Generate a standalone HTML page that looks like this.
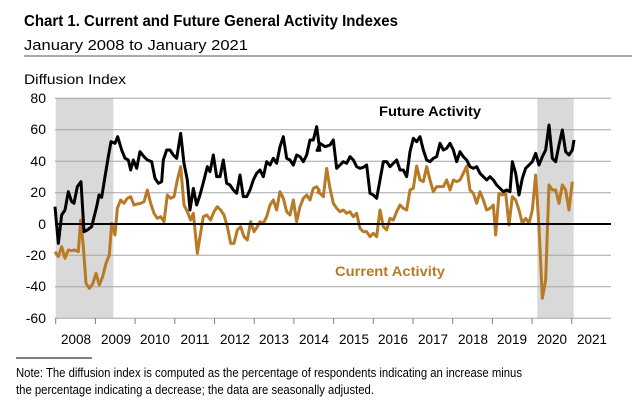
<!DOCTYPE html>
<html><head><meta charset="utf-8"><style>
html,body{margin:0;padding:0;background:#fff;}
svg{display:block;font-family:"Liberation Sans",sans-serif;}
</style></head><body>
<svg width="640" height="410" viewBox="0 0 640 410" xmlns="http://www.w3.org/2000/svg">
<text x="24" y="26" font-size="15.5" font-weight="bold" textLength="374" lengthAdjust="spacingAndGlyphs">Chart 1. Current and Future General Activity Indexes</text>
<text x="24" y="50" font-size="15" textLength="224" lengthAdjust="spacingAndGlyphs">January 2008 to January 2021</text>
<line x1="24" y1="56" x2="632" y2="56" stroke="#555" stroke-width="1"/>
<text x="24" y="84" font-size="14" textLength="102" lengthAdjust="spacingAndGlyphs">Diffusion Index</text>
<rect x="55.7" y="98" width="57.6" height="220" fill="#d9d9d9"/>
<rect x="537.3" y="98" width="36.4" height="220" fill="#d9d9d9"/>
<g stroke="#a6a6a6" stroke-width="1">
<line x1="55" y1="98.3" x2="611" y2="98.3"/>
<line x1="55" y1="129.8" x2="611" y2="129.8"/>
<line x1="55" y1="161.3" x2="611" y2="161.3"/>
<line x1="55" y1="192.8" x2="611" y2="192.8"/>
<line x1="55" y1="255.3" x2="611" y2="255.3"/>
<line x1="55" y1="286.8" x2="611" y2="286.8"/>
<line x1="55" y1="318.3" x2="611" y2="318.3"/>
</g>
<g stroke="#808080" stroke-width="1">
<line x1="55.7" y1="318" x2="55.7" y2="324"/><line x1="95.4" y1="318" x2="95.4" y2="324"/><line x1="135.1" y1="318" x2="135.1" y2="324"/><line x1="174.8" y1="318" x2="174.8" y2="324"/><line x1="214.5" y1="318" x2="214.5" y2="324"/><line x1="254.2" y1="318" x2="254.2" y2="324"/><line x1="293.9" y1="318" x2="293.9" y2="324"/><line x1="333.6" y1="318" x2="333.6" y2="324"/><line x1="373.3" y1="318" x2="373.3" y2="324"/><line x1="413" y1="318" x2="413" y2="324"/><line x1="452.7" y1="318" x2="452.7" y2="324"/><line x1="492.4" y1="318" x2="492.4" y2="324"/><line x1="532.1" y1="318" x2="532.1" y2="324"/><line x1="571.8" y1="318" x2="571.8" y2="324"/>
</g>
<g font-size="14" text-anchor="end">
<text x="46" y="103">80</text><text x="46" y="134">60</text><text x="46" y="166">40</text><text x="46" y="197">20</text><text x="46" y="229">0</text><text x="46" y="260">-20</text><text x="46" y="291">-40</text><text x="46" y="323">-60</text>
</g>
<g font-size="13.5" text-anchor="middle">
<text x="76" y="344">2008</text><text x="116" y="344">2009</text><text x="155" y="344">2010</text><text x="195" y="344">2011</text><text x="235" y="344">2012</text><text x="274" y="344">2013</text><text x="314" y="344">2014</text><text x="354" y="344">2015</text><text x="393" y="344">2016</text><text x="433" y="344">2017</text><text x="473" y="344">2018</text><text x="512" y="344">2019</text><text x="552" y="344">2020</text><text x="592" y="344">2021</text>
</g>
<g fill="none" stroke-linejoin="round" stroke-width="9">
<g transform="translate(0,80) scale(0.33333)">
<polyline stroke="#b87a26" points="165,515 175,530 185,500 195,535 205,510 215,512 225,510 235,515 242,420 250,500 258,610 268,625 278,612 288,580 298,615 308,590 318,550 328,525 335,430 345,465 352,385 362,360 372,370 382,355 392,350 402,375 412,372 422,370 432,365 442,330 452,370 462,400 472,415 482,410 492,425 502,345 512,355 522,350 532,300 542,260 552,375 562,395 572,420 580,400 592,520 600,470 610,410 620,405 632,420 642,395 652,380 662,390 672,405 682,440 692,490 702,490 712,450 722,440 732,470 742,480 752,425 762,455 772,440 780,425 790,430 800,410 810,375 820,360 830,390 840,335 850,355 860,395 870,405 880,360 890,425 900,380 910,355 920,345 930,360 940,325 950,320 960,335"/>
<polyline stroke="#000" points="165,380 175,490 185,405 195,390 205,335 215,365 222,370 232,320 243,305 252,455 262,450 275,440 290,380 297,345 305,352 315,290 325,230 333,185 345,190 353,170 365,210 375,235 385,240 392,270 400,240 410,265 420,215 432,230 442,240 455,245 465,295 475,310 485,305 490,240 500,210 510,210 520,225 530,235 542,160 552,250 562,300 570,390 580,325 590,375 600,345 612,300 622,260 630,275 640,225 650,290 660,290 670,240 680,310 690,315 700,330 710,340 720,285 730,350 740,350 750,330 760,300 770,280 780,270 790,290 800,245 810,255 820,235 830,250 840,200 850,170 860,235 870,240 880,255 890,225 900,230 910,245 920,225 930,180 940,180 950,140 960,215"/>
</g>
<g transform="translate(320,80) scale(0.33333)">
<polyline stroke="#b87a26" points="-10,335 0,340 10,350 20,265 30,325 40,370 50,385 60,395 70,390 80,400 90,395 100,410 110,400 120,445 130,455 140,455 150,470 160,460 170,470 180,390 190,440 200,450 210,415 220,420 230,395 240,375 250,385 260,390 270,330 280,325 290,258 300,300 310,305 320,260 330,300 340,335 350,320 360,320 370,320 380,300 390,330 400,300 410,305 420,300 430,280 440,258 450,330 460,340 470,370 480,335 490,360 500,390 510,385 520,375 527,465 537,340 547,345 557,340 567,435 577,350 587,360 597,390 607,430 617,415 627,430 637,390 647,285 657,440 667,655 677,600 687,315 697,330 707,330 717,370 727,315 737,330 747,390 757,305"/>
<polyline stroke="#000" points="-10,215 0,190 15,200 30,195 40,180 50,265 60,255 70,245 80,250 90,230 100,240 110,260 120,265 130,262 140,255 150,340 160,345 170,355 180,300 190,245 200,245 210,260 220,250 230,240 240,270 250,270 260,290 270,215 280,175 290,185 300,170 310,210 320,240 330,245 340,235 350,230 360,190 370,210 380,205 390,190 400,210 410,245 420,215 430,230 440,240 450,260 460,265 470,260 480,280 490,290 500,300 510,290 520,300 530,315 540,325 550,335 560,330 570,335 577,245 587,280 597,345 607,295 617,265 627,255 637,245 647,220 657,255 667,230 677,210 687,135 697,235 707,245 717,195 727,150 737,215 747,225 757,210 762,180"/>
</g>
</g>
<line x1="55" y1="224" x2="611" y2="224" stroke="#000" stroke-width="2"/>
<text x="379" y="116" font-size="14" font-weight="bold" textLength="102" lengthAdjust="spacingAndGlyphs">Future Activity</text>
<text x="335" y="276" font-size="14" font-weight="bold" fill="#b87a26" textLength="110" lengthAdjust="spacingAndGlyphs">Current Activity</text>
<line x1="16" y1="358" x2="92" y2="358" stroke="#000" stroke-width="1"/>
<text x="16" y="377" font-size="13" textLength="506" lengthAdjust="spacingAndGlyphs">Note: The diffusion index is computed as the percentage of respondents indicating an increase minus</text>
<text x="16" y="394" font-size="13" textLength="358" lengthAdjust="spacingAndGlyphs">the percentage indicating a decrease; the data are seasonally adjusted.</text>
</svg>
</body></html>
